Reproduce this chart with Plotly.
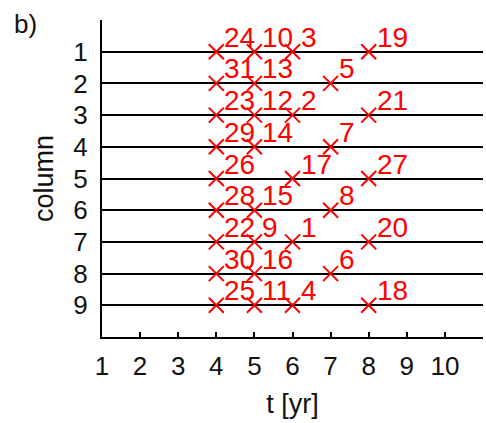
import plotly.graph_objects as go

# Event times (years) per column, with their event numbers
rows = [1, 1, 1, 1,
        2, 2, 2,
        3, 3, 3, 3,
        4, 4, 4,
        5, 5, 5,
        6, 6, 6,
        7, 7, 7, 7,
        8, 8, 8,
        9, 9, 9, 9]
times = [4, 5, 6, 8,
         4, 5, 7,
         4, 5, 6, 8,
         4, 5, 7,
         4, 6, 8,
         4, 5, 7,
         4, 5, 6, 8,
         4, 5, 7,
         4, 5, 6, 8]
labels = ["24", "10", "3", "19",
          "31", "13", "5",
          "23", "12", "2", "21",
          "29", "14", "7",
          "26", "17", "27",
          "28", "15", "8",
          "22", "9", "1", "20",
          "30", "16", "6",
          "25", "11", "4", "18"]

columns = list(range(1, 10))
t_ticks = list(range(1, 11))

RED = "#ff0000"
FONT = "Liberation Sans, Arial, sans-serif"

fig = go.Figure()
fig.add_trace(go.Scatter(
    x=times, y=rows, mode="markers",
    marker=dict(symbol="x-thin", size=15, color=RED,
                line=dict(color=RED, width=2)),
    cliponaxis=False, showlegend=False, hoverinfo="skip",
))

for t, r, s in zip(times, rows, labels):
    fig.add_annotation(x=t, y=r, text=s, showarrow=False,
                       xanchor="left", yanchor="bottom",
                       xshift=6, yshift=-3,
                       font=dict(family=FONT, size=28, color=RED))

fig.add_annotation(xref="paper", yref="paper", x=-0.235, y=1.04,
                   xanchor="left", yanchor="top", text="b)",
                   showarrow=False,
                   font=dict(family=FONT, size=26, color="#111"))

fig.update_layout(
    width=486, height=423,
    margin=dict(l=102, r=3, t=20, b=86),
    paper_bgcolor="white", plot_bgcolor="white",
    font=dict(family=FONT, size=26, color="#111"),
    xaxis=dict(range=[1, 11], tickvals=t_ticks, showgrid=False,
               zeroline=False, showline=True, linecolor="black",
               linewidth=2, ticks="inside", ticklen=5, tickwidth=1.5,
               tickcolor="black", ticklabelstandoff=5,
               title=dict(text="t [yr]", font=dict(size=27), standoff=14)),
    yaxis=dict(range=[10, 0], tickvals=columns, showgrid=True,
               gridcolor="black", gridwidth=2, zeroline=False,
               showline=True, linecolor="black", linewidth=2,
               ticks="", ticklabelstandoff=7,
               title=dict(text="column", font=dict(size=27), standoff=12)),
)

fig.write_html("out.html")
